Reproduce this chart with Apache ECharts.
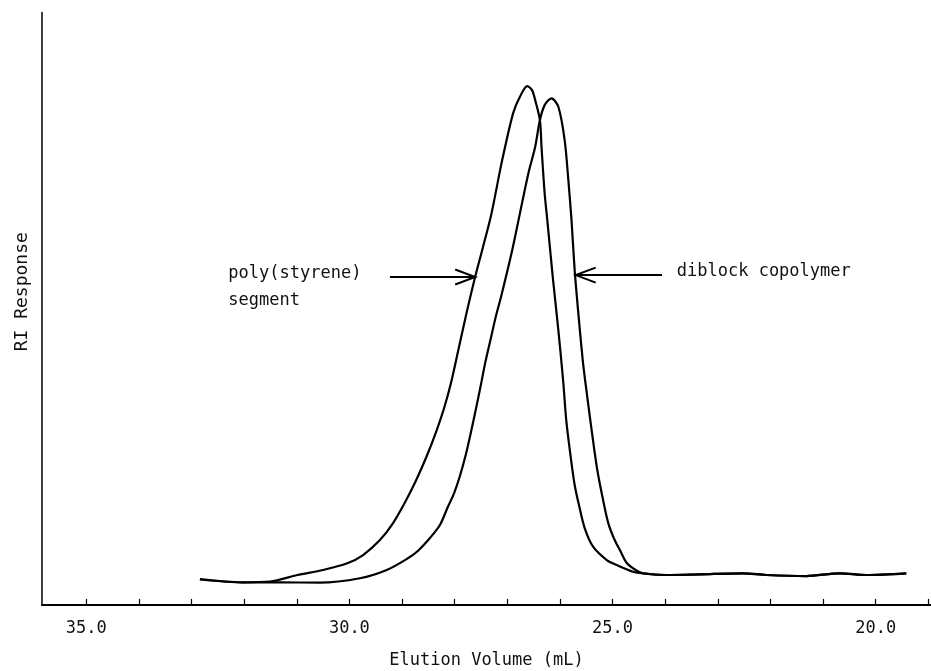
<!DOCTYPE html>
<html>
<head>
<meta charset="utf-8">
<script src="https://cdn.jsdelivr.net/npm/echarts@6/dist/echarts.min.js"></script>
<style>
html,body{margin:0;padding:0;background:#fff;}
#chart{width:931px;height:671px;}
</style>
</head>
<body>
<div id="chart"></div>
<script>
// Elution volume (mL) and RI response (arbitrary units)
const volumeStyrene = [32.84,32.02,31.51,30.99,30.50,30.04,29.74,29.42,29.17,28.94,28.73,28.53,28.34,28.20,28.07,27.93,27.77,27.61,27.46,27.30,27.11,26.89,26.76,26.62,26.53,26.47,26.38,26.35,26.29,26.24,26.13,26.03,25.94,25.88,25.80,25.72,25.63,25.53,25.37,25.11,24.92,24.61,24.42,23.97,23.34,22.53,22.08,21.32,20.68,20.18,19.42];
const responseStyrene = [4.37,3.82,3.95,5.04,5.88,7.01,8.40,10.92,13.78,17.31,21.01,25.04,29.41,33.11,37.31,42.86,49.24,55.18,60.22,65.83,74.24,82.64,85.43,87.23,86.55,84.87,81.51,77.03,69.19,64.71,54.62,46.22,37.82,31.09,25.21,20.17,16.47,12.94,9.80,7.56,6.72,5.60,5.33,5.04,5.16,5.33,5.04,4.87,5.33,5.04,5.33];

const volumeDiblock = [32.84,32.02,31.32,30.56,29.80,29.29,28.91,28.70,28.47,28.28,28.13,28.01,27.90,27.79,27.69,27.60,27.51,27.42,27.32,27.22,27.11,26.92,26.76,26.60,26.47,26.38,26.29,26.16,26.03,25.91,25.84,25.78,25.72,25.65,25.56,25.48,25.38,25.29,25.18,25.08,24.96,24.86,24.73,24.54,24.42,23.97,23.34,22.53,22.08,21.32,20.68,20.18,19.42];
const responseDiblock = [4.29,3.78,3.82,3.75,4.49,5.88,7.73,9.08,11.26,13.45,16.47,18.82,21.68,25.21,29.08,32.77,36.64,40.67,44.54,48.40,52.10,59.11,65.83,72.55,77.03,81.51,84.03,85.16,83.75,78.15,71.43,64.71,56.30,49.03,40.62,34.96,28.24,22.69,17.65,13.73,10.92,9.24,7.06,5.76,5.33,5.04,5.16,5.33,5.04,4.87,5.33,5.04,5.33];

const xTickValues = [19,20,21,22,23,24,25,26,27,28,29,30,31,32,33,34,35];
const xLabelValues = [20,25,30,35];

// annotation anchors in data units: [volume, response]
const arrowStyreneTail = [29.23, 55.13];
const arrowStyreneTip = [27.61, 55.13];
const arrowDiblockTail = [24.06, 55.46];
const arrowDiblockTip = [25.70, 55.46];
const labelStyrene = [32.30, 58.0];
const labelDiblock = [23.78, 56.0];
const labelStyreneText = 'poly(styrene)\nsegment';
const labelDiblockText = 'diblock copolymer';

const FONT = 'DejaVu Sans Mono';

const zip = (a, b) => a.map((v, i) => [v, b[i]]);

const chart = echarts.init(document.getElementById('chart'), null, {renderer: 'canvas'});
const option = {
  backgroundColor: '#ffffff',
  animation: false,
  grid: {left: 42, right: 0, top: 12.5, bottom: 66, containLabel: false, outerBoundsMode: 'none'},
  xAxis: {
    type: 'value',
    inverse: true,
    min: 18.95,
    max: 35.84,
    name: 'Elution Volume (mL)',
    nameLocation: 'middle',
    nameGap: 47,
    nameTextStyle: {fontFamily: FONT, fontSize: 17, color: '#111'},
    axisLine: {show: true, onZero: false, lineStyle: {color: '#000', width: 2}},
    axisTick: {show: true, inside: true, length: 6, customValues: xTickValues, lineStyle: {color: '#000', width: 1.2}},
    axisLabel: {show: true, customValues: xLabelValues, margin: 15, fontFamily: FONT, fontSize: 17, color: '#111',
      formatter: v => v.toFixed(1)},
    splitLine: {show: false}
  },
  yAxis: {
    type: 'value',
    min: 0,
    max: 99.6,
    name: 'RI Response',
    nameLocation: 'middle',
    nameGap: 11,
    nameTextStyle: {fontFamily: FONT, fontSize: 18, color: '#111', padding: [0, 0, 0, 34]},
    axisLine: {show: true, lineStyle: {color: '#000', width: 1.5}},
    axisTick: {show: false},
    axisLabel: {show: false},
    splitLine: {show: false}
  },
  series: [
    {
      name: 'poly(styrene) segment',
      type: 'line',
      data: zip(volumeStyrene, responseStyrene),
      showSymbol: false,
      smooth: 0.3,
      lineStyle: {color: '#000', width: 2.2}
    },
    {
      name: 'diblock copolymer',
      type: 'line',
      data: zip(volumeDiblock, responseDiblock),
      showSymbol: false,
      smooth: 0.3,
      lineStyle: {color: '#000', width: 2.2}
    }
  ]
};
chart.setOption(option);

function px(p) { return chart.convertToPixel({gridIndex: 0}, p); }
function arrow(tail, tip) {
  const a = px(tail), b = px(tip);
  const dir = Math.sign(b[0] - a[0]);
  const L = 20, H = 7.5;
  return [
    {type: 'line', shape: {x1: a[0], y1: a[1], x2: b[0], y2: b[1]}, style: {stroke: '#000', lineWidth: 2}},
    {type: 'polyline', shape: {points: [[b[0] - dir * L, b[1] - H], [b[0], b[1]], [b[0] - dir * L, b[1] + H]]},
      style: {stroke: '#000', lineWidth: 2, fill: null}}
  ];
}
const ls = px(labelStyrene), ld = px(labelDiblock);
chart.setOption({
  graphic: [
    ...arrow(arrowStyreneTail, arrowStyreneTip),
    ...arrow(arrowDiblockTail, arrowDiblockTip),
    {type: 'text', x: ls[0], y: ls[1], style: {text: labelStyreneText, fontFamily: FONT, fontSize: 17, fill: '#111',
      lineHeight: 27, textAlign: 'left', textVerticalAlign: 'top'}},
    {type: 'text', x: ld[0], y: ld[1], style: {text: labelDiblockText, fontFamily: FONT, fontSize: 17, fill: '#111',
      textAlign: 'left', textVerticalAlign: 'middle'}}
  ]
});
</script>
</body>
</html>
